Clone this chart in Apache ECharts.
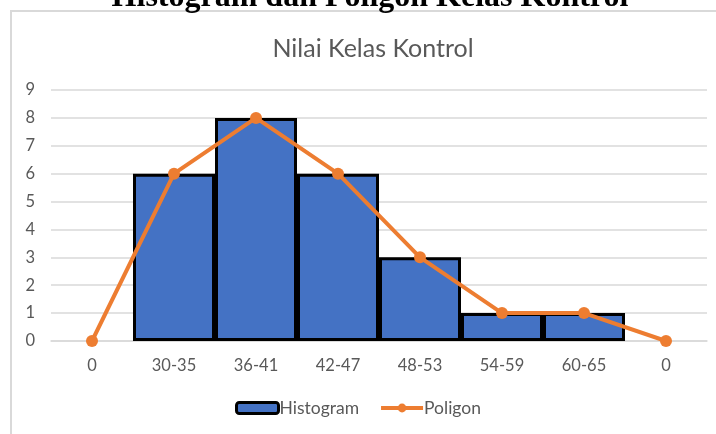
<!DOCTYPE html>
<html>
<head>
<meta charset="utf-8">
<script src="https://cdn.jsdelivr.net/npm/echarts@6/dist/echarts.min.js"></script>
<style>html,body{margin:0;padding:0;background:#fff;}#c{width:716px;height:434px;}</style>
</head>
<body>
<div id="c"></div>
<script>
const categories = ['0', '30-35', '36-41', '42-47', '48-53', '54-59', '60-65', '0 '];
const histogram = [null, 6, 8, 6, 3, 1, 1, null];
const poligon = [0, 6, 8, 6, 3, 1, 1, 0];
const yTicks = [0, 1, 2, 3, 4, 5, 6, 7, 8, 9];

const chart = echarts.init(document.getElementById('c'));
const font = 'Lato';
chart.setOption({
  animation: false,
  backgroundColor: '#fff',
  graphic: [
    { type: 'rect', shape: { x: 11, y: 11, width: 800, height: 600 }, style: { fill: 'none', stroke: '#d9d9d9', lineWidth: 2 }, z: -1 },
    { type: 'text', x: 370, y: 14, style: { text: 'Histogram dan Poligon Kelas Kontrol', font: 'bold 32px "Liberation Serif"', fill: '#000', textAlign: 'center', textVerticalAlign: 'bottom' } }
  ],
  title: {
    text: 'Nilai Kelas Kontrol', left: 368, top: 31, textAlign: 'center',
    textStyle: { fontFamily: font, fontSize: 25, fontWeight: 'normal', color: '#595959' }
  },
  legend: {
    bottom: 12, left: 'center', itemWidth: 42, itemHeight: 11, itemGap: 20,
    textStyle: { fontFamily: font, fontSize: 17.5, color: '#595959', padding: [0, 0, 0, -4] },
    data: [
      { name: 'Histogram', itemStyle: { borderWidth: 3 } },
      { name: 'Poligon', lineStyle: { width: 4 } }
    ]
  },
  grid: { left: 51, right: 9, top: 90, bottom: 93, containLabel: false },
  xAxis: {
    type: 'category', data: categories, boundaryGap: true,
    axisLine: { show: true, lineStyle: { color: '#d9d9d9', width: 1.5 } },
    axisTick: { show: false },
    axisLabel: { fontFamily: font, fontSize: 16.5, color: '#595959', margin: 16, formatter: v => v.trim() }
  },
  yAxis: {
    type: 'value', min: 0, max: 9, interval: 1,
    axisLine: { show: false }, axisTick: { show: false },
    axisLabel: { fontFamily: font, fontSize: 16.5, color: '#595959', margin: 16, formatter: v => yTicks.includes(v) ? String(v) : '' },
    splitLine: { lineStyle: { color: '#d9d9d9', width: 1.5 } }
  },
  series: [
    {
      name: 'Histogram', type: 'bar', data: histogram, barCategoryGap: '0%', barGap: '-100%',
      itemStyle: { color: '#4472C4', borderColor: '#000', borderWidth: 3 }
    },
    {
      name: 'Poligon', type: 'line', data: poligon, symbol: 'circle', symbolSize: 12,
      lineStyle: { color: '#ED7D31', width: 4 }, itemStyle: { color: '#ED7D31' }, z: 5
    }
  ]
});
</script>
</body>
</html>
